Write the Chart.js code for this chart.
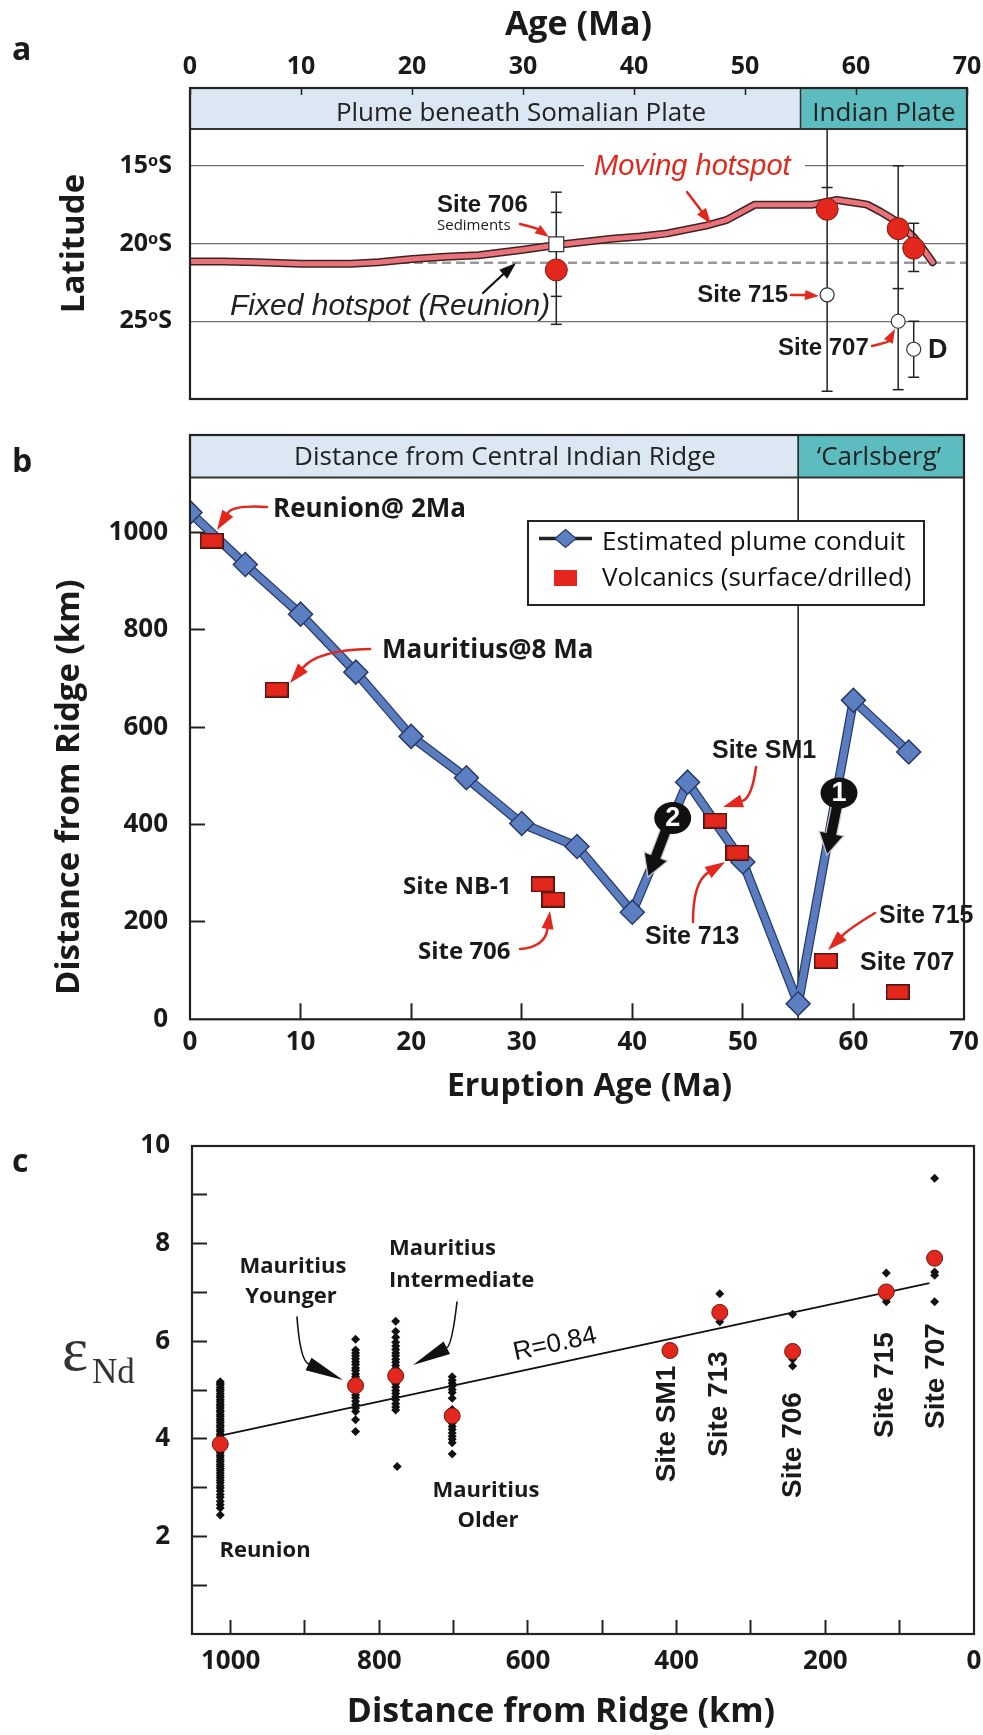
<!DOCTYPE html>
<html><head><meta charset="utf-8">
<script src="https://cdn.jsdelivr.net/npm/chart.js"></script>
<style>
html,body{margin:0;padding:0;background:#fff;}
#wrap{position:relative;width:983px;height:1735px;overflow:hidden;background:#fff;}
canvas{position:absolute;left:0;}
</style></head><body>
<div id="wrap">
<canvas id="ca" width="983" height="420" style="top:0px"></canvas>
<canvas id="cb" width="983" height="700" style="top:420px"></canvas>
<canvas id="cc" width="983" height="615" style="top:1120px"></canvas>
</div>
<script>
// ================= DATA =================
// ---- Panel a : latitude vs age ----
const ageTicksA = [0,10,20,30,40,50,60,70];
const latTicksA = [15,20,25];
const bandAStart = [0,55];
const bandAEnd = [55,70];
const bandALabels = ['Plume beneath Somalian Plate','Indian Plate'];
const bandALatTop = 10;
const bandALatBottom = 12.64;
const movingAge = [0,3,6,10,14.5,17,20,23,26,30,33,36,38,40.6,43,46.5,48.3,50.9,53,56.1,58.3,60.1,61,62.2,63.7,65.2,66.1,66.9];
const movingLat = [21.15,21.15,21.2,21.3,21.3,21.2,21.0,20.85,20.75,20.4,20.1,19.85,19.7,19.55,19.35,18.85,18.5,17.5,17.5,17.5,17.2,17.4,17.5,17.95,18.6,19.6,20.4,21.2];
const fixedAge = [0,70];
const fixedLat = [21.23,21.23];
const redCircleAge = [33.0,57.4,63.8,65.2];
const redCircleLat = [21.7,17.8,19.05,20.3];
const openCircleAge = [57.4,63.8,65.2];
const openCircleLat = [23.3,25.0,26.8];
const sedimentAge = [33.0];
const sedimentLat = [20.05];
const errAge = [33.0,57.4,63.8,65.2,65.2];
const errLats = [[16.7,18.0,23.4,25.2],[12.64,16.4,29.5],[15.0,22.9,29.4],[18.7,21.8],[25.0,28.6]];

// ---- Panel b : distance from ridge vs eruption age ----
const ageTicksB = [0,10,20,30,40,50,60,70];
const distTicksB = [0,200,400,600,800,1000];
const bandBStart = [0,55];
const bandBEnd = [55,70];
const bandBLabels = ['Distance from Central Indian Ridge','\u2018Carlsberg\u2019'];
const bandBTop = 1200;
const bandBBottom = 1112.7;
const conduitAge = [0,5,10,15,20,25,30,35,40,45,50,55,60,65];
const conduitDist = [1041,934,832,713,581,496,402,355,220,487,323,32,655,549];
const volcAge = [1.96,7.84,31.9,32.85,47.5,49.5,57.5,64.0];
const volcDist = [983,677,277,246,408,342,120,56];
const volcNames = ['Reunion@ 2Ma','Mauritius@8 Ma','Site NB-1','Site 706','Site SM1','Site 713','Site 715','Site 707'];

// ---- Panel c : eNd vs distance from ridge ----
const distTicksC = [1000,900,800,700,600,500,400,300,200,100,0];
const epsTicksC = [1,2,3,4,5,6,7,8,9,10];
const groupNames = ['Reunion','Mauritius Younger','Mauritius Intermediate','Mauritius Intermediate','Mauritius Older','Site 713','Site 706','Site 715','Site 707'];
const groupDist = [1014,832,778,776,702,342,244,118,53];
const reunionEps = [5.17,5.13,5.1,5.05,5.01,4.98,4.93,4.88,4.85,4.8,4.76,4.71,4.67,4.63,4.58,4.55,4.5,4.46,4.41,4.37,4.33,4.28,4.24,4.19,4.15,4.1,4.06,4.01,3.97,3.93,3.88,3.83,3.8,3.75,3.71,3.66,3.62,3.57,3.53,3.48,3.44,3.39,3.35,3.3,3.25,3.2,3.15,3.1,3.04,2.99,2.93,2.86,2.8,2.72,2.65,2.58,2.44];
const youngerEps = [6.04,5.82,5.76,5.7,5.64,5.58,5.52,5.45,5.4,5.33,5.27,5.2,5.14,5.03,4.97,4.9,4.84,4.77,4.7,4.63,4.56,4.39,4.15];
const intermediateEps = [6.41,6.2,6.08,5.98,5.9,5.83,5.76,5.7,5.63,5.57,5.5,5.44,5.38,5.2,5.13,5.06,4.99,4.93,4.86,4.8,4.72,4.65,4.59];
const intermediateLowEps = [3.43];
const olderEps = [5.27,5.2,5.14,5.08,5.01,4.95,4.83,4.6,4.38,4.32,4.25,4.19,4.12,4.05,3.99,3.92,3.69];
const site713Eps = [6.97,6.4];
const site706Eps = [6.55,5.63,5.49];
const site715Eps = [7.4,6.93,6.87,6.81];
const site707Eps = [9.34,7.42,7.35,6.81];
const groupEps = [reunionEps,youngerEps,intermediateEps,intermediateLowEps,olderEps,site713Eps,site706Eps,site715Eps,site707Eps];
const meanDist = [1014,832,778,702,409,342,244,118,53];
const meanEps = [3.89,5.09,5.29,4.47,5.81,6.59,5.79,7.01,7.70];
const meanNames = ['Reunion','Mauritius Younger','Mauritius Intermediate','Mauritius Older','Site SM1','Site 713','Site 706','Site 715','Site 707'];
const regDist = [1015,60];
const regEps = [4.06,7.19];
const regLabel = 'R=0.84';

// ================= HELPERS =================
const FONT_OS = "'Open Sans','Noto Sans','DejaVu Sans',sans-serif";
const FONT_AR = "'Liberation Sans',Arial,'DejaVu Sans',sans-serif";
const FONT_SERIF = "'Liberation Serif','Times New Roman','DejaVu Serif',serif";
const INK = '#1a1a1a';
const LIGHT = '#dbe7f3';
const TEAL = '#5cbcbf';
const RED = '#e3271c';
const pts = (xs, ys) => xs.map((x, i) => ({x: x, y: ys[i]}));

function txt(ctx, s, x, y, font, color, align, baseline, rot) {
  ctx.save();
  ctx.translate(x, y);
  if (rot) ctx.rotate(rot);
  ctx.font = font; ctx.fillStyle = color;
  ctx.textAlign = align || 'left'; ctx.textBaseline = baseline || 'alphabetic';
  ctx.fillText(s, 0, 0);
  ctx.restore();
}
function curveArrow(ctx, x0, y0, cx, cy, x1, y1, color, lw, hl, hw) {
  const ang = Math.atan2(y1 - cy, x1 - cx);
  const bx = x1 - hl * Math.cos(ang), by = y1 - hl * Math.sin(ang);
  ctx.save();
  ctx.strokeStyle = color; ctx.fillStyle = color; ctx.lineWidth = lw; ctx.lineCap = 'round';
  ctx.beginPath(); ctx.moveTo(x0, y0); ctx.quadraticCurveTo(cx, cy, bx, by); ctx.stroke();
  const px = -Math.sin(ang) * hw / 2, py = Math.cos(ang) * hw / 2;
  ctx.beginPath(); ctx.moveTo(x1, y1); ctx.lineTo(bx + px, by + py); ctx.lineTo(bx - px, by - py); ctx.closePath(); ctx.fill();
  ctx.restore();
}
function fatArrow(ctx, x0, y0, x1, y1, sw, hw, hl) {
  const ang = Math.atan2(y1 - y0, x1 - x0), len = Math.hypot(x1 - x0, y1 - y0);
  ctx.save(); ctx.translate(x0, y0); ctx.rotate(ang);
  ctx.beginPath();
  ctx.moveTo(0, -sw / 2); ctx.lineTo(len - hl, -sw / 2); ctx.lineTo(len - hl, -hw / 2); ctx.lineTo(len, 0);
  ctx.lineTo(len - hl, hw / 2); ctx.lineTo(len - hl, sw / 2); ctx.lineTo(0, sw / 2); ctx.closePath();
  ctx.fillStyle = '#111'; ctx.fill(); ctx.strokeStyle = '#c8c8c8'; ctx.lineWidth = 1.2; ctx.stroke();
  ctx.restore();
}
function numberBadge(ctx, x, y, rx, ry, s) {
  ctx.save();
  ctx.beginPath(); ctx.ellipse(x, y, rx, ry, 0, 0, Math.PI * 2); ctx.fillStyle = '#111'; ctx.fill();
  ctx.restore();
  txt(ctx, s, x, y + 1, 'bold 27px ' + FONT_AR, '#fff', 'center', 'middle');
}
function frame(chart) {
  const {ctx, chartArea: a} = chart;
  ctx.save(); ctx.strokeStyle = '#222'; ctx.lineWidth = 2.2;
  ctx.strokeRect(a.left, a.top, a.right - a.left, a.bottom - a.top); ctx.restore();
}
function makeRect(w, h, fill, stroke, lw) {
  const c = document.createElement('canvas'); c.width = w; c.height = h;
  const g = c.getContext('2d');
  g.fillStyle = stroke; g.fillRect(0, 0, w, h);
  g.fillStyle = fill; g.fillRect(lw, lw, w - 2 * lw, h - 2 * lw);
  return c;
}
function fixBox(w, h) {
  return function (s) {
    if (w != null) s.width = w;
    if (h != null) s.height = h;
    s.paddingLeft = 0; s.paddingRight = 0; s.paddingTop = 0; s.paddingBottom = 0;
  };
}
const tickSet = arr => (s => { s.ticks = arr.map(v => ({value: v})); });
const baseOpts = {
  responsive: false, animation: false, devicePixelRatio: 1, events: [],
  plugins: {legend: {display: false}, tooltip: {enabled: false}}
};

// ================= PANEL A =================
const errorSets = errAge.map((a, i) => ({
  label: 'error ' + i,
  data: errLats[i].map(l => ({x: a, y: l})),
  showLine: true, borderColor: '#222', borderWidth: 1.5,
  pointStyle: 'line', pointBorderColor: '#222', pointBorderWidth: 1.5,
  pointRadius: c => (c.raw && c.raw.y <= bandALatBottom + 0.01) ? 0 : 5.5
}));

const decorA = {
  id: 'decorA',
  beforeDraw(chart) {
    const {ctx, scales: {x, y}} = chart;
    const yt = y.getPixelForValue(bandALatTop), yb = y.getPixelForValue(bandALatBottom);
    bandALabels.forEach((n, i) => {
      const x0 = x.getPixelForValue(bandAStart[i]), x1 = x.getPixelForValue(bandAEnd[i]);
      ctx.fillStyle = i === 0 ? LIGHT : TEAL; ctx.fillRect(x0, yt, x1 - x0, yb - yt);
    });
  },
  afterDatasetsDraw(chart) {
    const {ctx, chartArea: a, scales: {x, y}} = chart;
    const yt = y.getPixelForValue(bandALatTop), yb = y.getPixelForValue(bandALatBottom);
    ctx.save(); ctx.strokeStyle = '#333'; ctx.lineWidth = 2;
    ctx.beginPath(); ctx.moveTo(a.left, yb); ctx.lineTo(a.right, yb); ctx.stroke();
    const xd = x.getPixelForValue(bandAEnd[0]);
    ctx.lineWidth = 1.5; ctx.beginPath(); ctx.moveTo(xd, yt); ctx.lineTo(xd, yb); ctx.stroke();
    ctx.restore();
    txt(ctx, bandALabels[0], 521, 121, '26px ' + FONT_OS, '#222', 'center');
    txt(ctx, bandALabels[1], 884, 121, '26px ' + FONT_OS, '#222', 'center');
    // Moving hotspot label (with gap in grid line)
    ctx.fillStyle = '#fff'; ctx.fillRect(584, 161, 221, 8);
    txt(ctx, 'Moving hotspot', 594, 175, 'italic 29px ' + FONT_AR, RED, 'left');
    curveArrow(ctx, 687, 192, 697, 205, 711, 224, RED, 2.5, 16, 11);
    txt(ctx, 'Fixed hotspot (Reunion)', 230, 315, 'italic 30px ' + FONT_AR, '#222', 'left');
    curveArrow(ctx, 483, 293, 499, 278, 516, 263, '#111', 2.2, 17, 12);
    txt(ctx, 'Site 706', 437, 212, 'bold 24px ' + FONT_AR, INK, 'left');
    txt(ctx, 'Sediments', 437, 230, '15px ' + FONT_OS, INK, 'left');
    curveArrow(ctx, 520, 224, 536, 228, 549, 237, RED, 2.5, 14, 10);
    txt(ctx, 'Site 715', 788, 302, 'bold 24px ' + FONT_AR, INK, 'right');
    curveArrow(ctx, 791, 295, 805, 295, 819, 296, RED, 2.5, 14, 10);
    txt(ctx, 'Site 707', 778, 355, 'bold 24px ' + FONT_AR, INK, 'left');
    curveArrow(ctx, 872, 346, 888, 342, 895, 329, RED, 2.5, 14, 10);
    txt(ctx, 'D', 928, 358, 'bold 27px ' + FONT_AR, INK, 'left');
    txt(ctx, 'a', 12, 60, 'bold 32px ' + FONT_OS, INK, 'left');
  },
  afterDraw(chart) { frame(chart); }
};

new Chart(document.getElementById('ca'), {
  type: 'scatter',
  data: {datasets: [
    {label: 'Paleolatitude (open)', data: pts(openCircleAge, openCircleLat), pointStyle: 'circle', pointRadius: 7,
     pointBackgroundColor: '#fff', pointBorderColor: '#333', pointBorderWidth: 1.2, showLine: false},
    {label: 'Site 706 Sediments', data: pts(sedimentAge, sedimentLat), pointStyle: 'rect', pointRadius: 10.5,
     pointBackgroundColor: '#fff', pointBorderColor: '#333', pointBorderWidth: 1.2, showLine: false},
    {label: 'Paleolatitude (volcanics)', data: pts(redCircleAge, redCircleLat), pointStyle: 'circle', pointRadius: 11,
     pointBackgroundColor: RED, pointBorderColor: '#7a1d12', pointBorderWidth: 1, showLine: false},
    ...errorSets,
    {label: 'Moving hotspot', data: pts(movingAge, movingLat), showLine: true, borderColor: '#ea737b', borderWidth: 5,
     pointRadius: 0, borderCapStyle: 'round', borderJoinStyle: 'round'},
    {label: 'Moving hotspot outline', data: pts(movingAge, movingLat), showLine: true, borderColor: '#3b2424', borderWidth: 8,
     pointRadius: 0, borderCapStyle: 'round', borderJoinStyle: 'round'},
    {label: 'Fixed hotspot (Reunion)', data: pts(fixedAge, fixedLat), showLine: true, borderColor: '#999', borderWidth: 2.5,
     borderDash: [9, 5], pointRadius: 0}
  ]},
  options: Object.assign({}, baseOpts, {
    layout: {padding: {left: 0, top: 0, right: 16, bottom: 21}, autoPadding: false},
    scales: {
      x: {type: 'linear', position: 'top', min: 0, max: 70,
        afterBuildTicks: tickSet(ageTicksA),
        ticks: {callback: v => String(v), font: {family: FONT_OS, size: 25, weight: 'bold'}, color: INK, padding: 13, maxRotation: 0, autoSkip: false},
        grid: {display: true, drawOnChartArea: false, drawTicks: true, tickLength: -7, tickColor: '#222', tickWidth: 1.5},
        border: {display: false},
        title: {display: true, text: 'Age (Ma)', color: INK, font: {family: FONT_OS, size: 34, weight: 'bold'}, padding: {top: 5, bottom: 0}},
        afterFit: fixBox(null, 88)},
      y: {type: 'linear', position: 'left', reverse: true, min: 10, max: 30,
        afterBuildTicks: tickSet(latTicksA),
        ticks: {callback: v => v + '\u1d52S', font: {family: FONT_OS, size: 25, weight: 'bold'}, color: INK, padding: 18},
        grid: {display: true, drawOnChartArea: true, drawTicks: false, color: '#707070', lineWidth: 1.3},
        border: {display: false},
        title: {display: true, text: 'Latitude', color: INK, font: {family: FONT_OS, size: 33, weight: 'bold'}, padding: {top: 55, bottom: 0}},
        afterFit: fixBox(190, null)}
    }
  }),
  plugins: [decorA]
});

// ================= PANEL B =================
const redRect = makeRect(24, 16, RED, '#4a1410', 1.5);
const decorB = {
  id: 'decorB',
  beforeDraw(chart) {
    const {ctx, scales: {x, y}} = chart;
    const yt = y.getPixelForValue(bandBTop), yb = y.getPixelForValue(bandBBottom);
    bandBLabels.forEach((n, i) => {
      const x0 = x.getPixelForValue(bandBStart[i]), x1 = x.getPixelForValue(bandBEnd[i]);
      ctx.fillStyle = i === 0 ? LIGHT : TEAL; ctx.fillRect(x0, yt, x1 - x0, yb - yt);
    });
  },
  beforeDatasetsDraw(chart) {
    const {ctx, chartArea: a, scales: {x, y}} = chart;
    const yt = y.getPixelForValue(bandBTop), yb = y.getPixelForValue(bandBBottom);
    const xd = x.getPixelForValue(bandBEnd[0]);
    ctx.save(); ctx.strokeStyle = '#222'; ctx.lineWidth = 1.6;
    ctx.beginPath(); ctx.moveTo(xd, yt); ctx.lineTo(xd, a.bottom); ctx.stroke();
    ctx.lineWidth = 2; ctx.strokeStyle = '#333';
    ctx.beginPath(); ctx.moveTo(a.left, yb); ctx.lineTo(a.right, yb); ctx.stroke();
    ctx.restore();
    txt(ctx, bandBLabels[0], 505, 45, '26px ' + FONT_OS, '#222', 'center');
    txt(ctx, bandBLabels[1], 879, 45, '26px ' + FONT_OS, '#222', 'center');
  },
  afterDatasetsDraw(chart) {
    const {ctx} = chart;
    const ds = chart.data.datasets;
    // legend
    ctx.save();
    ctx.fillStyle = '#fff'; ctx.fillRect(528, 101, 396, 84);
    ctx.strokeStyle = '#222'; ctx.lineWidth = 2; ctx.strokeRect(528, 101, 396, 84);
    ctx.lineWidth = 3.5; ctx.beginPath(); ctx.moveTo(539, 118.5); ctx.lineTo(592, 118.5); ctx.stroke();
    ctx.beginPath(); ctx.moveTo(565.5, 109.5); ctx.lineTo(576, 118.5); ctx.lineTo(565.5, 127.5); ctx.lineTo(555, 118.5); ctx.closePath();
    ctx.fillStyle = '#5b7fc0'; ctx.fill(); ctx.strokeStyle = '#2a3a6a'; ctx.lineWidth = 1.2; ctx.stroke();
    ctx.fillStyle = RED; ctx.fillRect(554, 150, 23, 16);
    ctx.restore();
    txt(ctx, ds[1].label, 602, 130, '26px ' + FONT_OS, '#111', 'left');
    txt(ctx, ds[0].label, 602, 166, '26px ' + FONT_OS, '#111', 'left');
    // labels
    const bo = s => 'bold ' + s + 'px ' + FONT_OS, ba = s => 'bold ' + s + 'px ' + FONT_AR;
    txt(ctx, volcNames[0], 273, 97, bo(26), INK);
    txt(ctx, volcNames[1], 382, 238, bo(26), INK);
    txt(ctx, volcNames[2], 403, 474, bo(24), INK);
    txt(ctx, volcNames[3], 418, 539, bo(24), INK);
    txt(ctx, volcNames[4], 712, 338, ba(25), INK);
    txt(ctx, volcNames[5], 645, 524, ba(25), INK);
    txt(ctx, volcNames[6], 879, 503, ba(25), INK);
    txt(ctx, volcNames[7], 860, 550, ba(25), INK);
    curveArrow(ctx, 267, 87, 233, 85, 217, 110, RED, 2.5, 20, 13);
    curveArrow(ctx, 370, 229, 318, 230, 290, 263, RED, 2.5, 20, 13);
    curveArrow(ctx, 520, 529, 545, 527, 550, 491, RED, 2.5, 18, 12);
    curveArrow(ctx, 756, 347, 752, 378, 723, 387, RED, 2.5, 20, 13);
    curveArrow(ctx, 693, 502, 693, 462, 725, 442, RED, 2.5, 20, 13);
    curveArrow(ctx, 875, 493, 850, 508, 828, 530, RED, 2.5, 20, 13);
    fatArrow(ctx, 666, 410, 648, 457, 11, 25, 22);
    numberBadge(ctx, 672.7, 398, 18.5, 16, '2');
    fatArrow(ctx, 837, 386, 827, 435, 11, 25, 22);
    numberBadge(ctx, 839, 373, 18.5, 15.5, '1');
    txt(ctx, 'b', 12, 52, 'bold 32px ' + FONT_OS, INK, 'left');
  },
  afterDraw(chart) { frame(chart); }
};

new Chart(document.getElementById('cb'), {
  type: 'scatter',
  data: {datasets: [
    {label: 'Volcanics (surface/drilled)', data: pts(volcAge, volcDist), pointStyle: redRect, pointRadius: 10, showLine: false},
    {label: 'Estimated plume conduit', data: pts(conduitAge, conduitDist), showLine: true, borderColor: '#5a7dbf', borderWidth: 7,
     borderJoinStyle: 'round', pointStyle: 'rectRot', pointRadius: 12, pointBackgroundColor: '#5b7fc0', pointBorderColor: '#2a3a6a', pointBorderWidth: 1.5},
    {label: 'conduit outline', data: pts(conduitAge, conduitDist), showLine: true, borderColor: '#2a3a6a', borderWidth: 9.5,
     borderJoinStyle: 'round', pointRadius: 0}
  ]},
  options: Object.assign({}, baseOpts, {
    layout: {padding: {left: 0, top: 15, right: 19, bottom: 0}, autoPadding: false},
    scales: {
      x: {type: 'linear', position: 'bottom', min: 0, max: 70,
        afterBuildTicks: tickSet(ageTicksB),
        ticks: {callback: v => String(v), font: {family: FONT_OS, size: 26, weight: 'bold'}, color: INK, padding: 24, maxRotation: 0, autoSkip: false},
        grid: {display: true, drawOnChartArea: false, drawTicks: true, tickLength: -16, tickWidth: 2,
          tickColor: c => (c.tick && c.tick.value > 0 && c.tick.value < 70) ? '#222' : 'rgba(0,0,0,0)'},
        border: {display: false},
        title: {display: true, text: '   Eruption Age (Ma)', color: INK, font: {family: FONT_OS, size: 32, weight: 'bold'}, padding: {top: 0, bottom: 14}},
        afterFit: fixBox(null, 100.7)},
      y: {type: 'linear', position: 'left', min: 0, max: 1200,
        afterBuildTicks: tickSet(distTicksB),
        ticks: {callback: v => String(v), font: {family: FONT_OS, size: 26, weight: 'bold'}, color: INK, padding: 37},
        grid: {display: true, drawOnChartArea: false, drawTicks: true, tickLength: -15, tickWidth: 2,
          tickColor: c => (c.tick && c.tick.value > 0) ? '#222' : 'rgba(0,0,0,0)'},
        border: {display: false},
        title: {display: true, text: 'Distance from Ridge (km)              ', color: INK, font: {family: FONT_OS, size: 33, weight: 'bold'}, padding: {top: 50, bottom: 0}},
        afterFit: fixBox(190, null)}
    }
  }),
  plugins: [decorB]
});

// ================= PANEL C =================
const rawPts = [];
groupEps.forEach((arr, i) => arr.forEach(v => rawPts.push({x: groupDist[i], y: v})));

const decorC = {
  id: 'decorC',
  afterDatasetsDraw(chart) {
    const {ctx, scales: {x, y}} = chart;
    const bo = s => 'bold ' + s + 'px ' + FONT_OS, ba = s => 'bold ' + s + 'px ' + FONT_AR;
    txt(ctx, 'Mauritius', 293, 153, bo(22), INK, 'center');
    txt(ctx, 'Younger', 291, 183, bo(22), INK, 'center');
    txt(ctx, 'Mauritius', 389, 135, bo(22), INK, 'left');
    txt(ctx, 'Intermediate', 389, 167, bo(22), INK, 'left');
    txt(ctx, 'Mauritius', 486, 377, bo(22), INK, 'center');
    txt(ctx, 'Older', 488, 407, bo(22), INK, 'center');
    txt(ctx, 'Reunion', 265, 437, bo(22), INK, 'center');
    const rot = -Math.PI / 2;
    txt(ctx, meanNames[4], 667, 304, ba(28), INK, 'center', 'middle', rot);
    txt(ctx, meanNames[5], 719, 284, ba(28), INK, 'center', 'middle', rot);
    txt(ctx, meanNames[6], 793, 325, ba(28), INK, 'center', 'middle', rot);
    txt(ctx, meanNames[7], 885, 265, ba(28), INK, 'center', 'middle', rot);
    txt(ctx, meanNames[8], 936, 256, ba(28), INK, 'center', 'middle', rot);
    // regression label along the line
    const x0 = x.getPixelForValue(regDist[0]), y0 = y.getPixelForValue(regEps[0]);
    const x1 = x.getPixelForValue(regDist[1]), y1 = y.getPixelForValue(regEps[1]);
    const ang = Math.atan2(y1 - y0, x1 - x0);
    const t = (559 - x0) / (x1 - x0);
    const lx = x0 + t * (x1 - x0), ly = y0 + t * (y1 - y0);
    txt(ctx, regLabel, lx + 19 * Math.sin(ang), ly - 19 * Math.cos(ang), '26px ' + FONT_AR, '#111', 'center', 'middle', ang);
    // black arrows
    curveArrow(ctx, 297, 197, 300, 240, 343, 260, '#111', 1.6, 38, 14);
    curveArrow(ctx, 457, 182, 452, 225, 413, 245, '#111', 1.6, 38, 14);
    // y axis symbol
    txt(ctx, '\u03b5', 62, 250, '62px ' + FONT_SERIF, '#333', 'left');
    txt(ctx, 'Nd', 92, 263, '35px ' + FONT_SERIF, '#333', 'left');
    txt(ctx, 'c', 12, 52, 'bold 32px ' + FONT_OS, INK, 'left');
  },
  afterDraw(chart) { frame(chart); }
};

new Chart(document.getElementById('cc'), {
  type: 'scatter',
  data: {datasets: [
    {label: 'Mean', data: pts(meanDist, meanEps), pointStyle: 'circle', pointRadius: 8, pointBackgroundColor: RED,
     pointBorderColor: '#6b1a10', pointBorderWidth: 1, showLine: false},
    {label: regLabel, data: pts(regDist, regEps), showLine: true, borderColor: '#111', borderWidth: 2, pointRadius: 0},
    {label: 'Samples', data: rawPts, pointStyle: 'rectRot', pointRadius: 4.5, pointBackgroundColor: '#111',
     pointBorderColor: '#111', pointBorderWidth: 0, showLine: false}
  ]},
  options: Object.assign({}, baseOpts, {
    layout: {padding: {left: 0, top: 26, right: 9, bottom: 0}, autoPadding: false},
    scales: {
      x: {type: 'linear', position: 'bottom', reverse: true, min: 0, max: 1052,
        afterBuildTicks: tickSet(distTicksC),
        ticks: {callback: v => (v % 200 === 0 ? String(v) : ''), font: {family: FONT_OS, size: 26, weight: 'bold'}, color: INK,
          padding: 26, maxRotation: 0, autoSkip: false},
        grid: {display: true, drawOnChartArea: false, drawTicks: true, tickLength: -14, tickWidth: 2,
          tickColor: c => (c.tick && c.tick.value > 0) ? '#222' : 'rgba(0,0,0,0)'},
        border: {display: false},
        title: {display: true, text: 'Distance from Ridge (km)     ', color: INK, font: {family: FONT_OS, size: 34, weight: 'bold'}, padding: {top: 0, bottom: 2}},
        afterFit: fixBox(null, 101)},
      y: {type: 'linear', position: 'left', min: 0, max: 10,
        afterBuildTicks: tickSet(epsTicksC),
        ticks: {callback: v => (v % 2 === 0 ? String(v) : ''), font: {family: FONT_OS, size: 26, weight: 'bold'}, color: INK, padding: 37},
        grid: {display: true, drawOnChartArea: false, drawTicks: true, tickLength: -15, tickWidth: 2,
          tickColor: c => (c.tick && c.tick.value < 10) ? '#222' : 'rgba(0,0,0,0)'},
        border: {display: false},
        title: {display: false},
        afterFit: fixBox(192, null)}
    }
  }),
  plugins: [decorC]
});
</script>
</body></html>
